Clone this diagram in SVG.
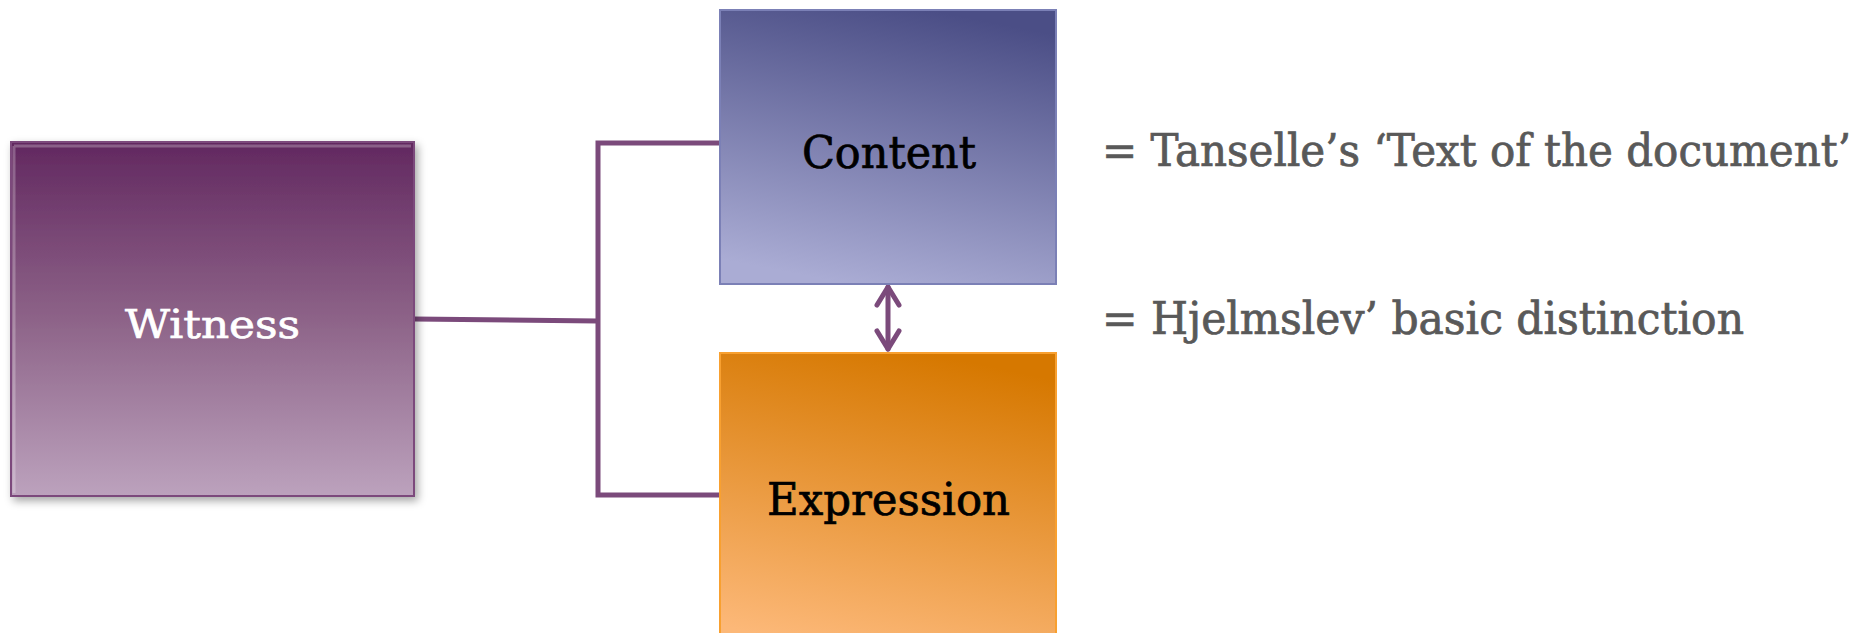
<svg xmlns="http://www.w3.org/2000/svg" width="1871" height="633" viewBox="0 0 1871 633">
<style>
.conn{fill:none;stroke:#7b4a7b;stroke-width:5;stroke-linejoin:miter}
.arrow{fill:none;stroke:#7b4a7b;stroke-width:5;stroke-linecap:round;stroke-linejoin:round}
.lbl{font-family:"DejaVu Serif","Liberation Serif",serif;text-anchor:middle;stroke-width:0.7}
.note{font-family:"DejaVu Serif Condensed","DejaVu Serif","Liberation Serif",serif;fill:#595959;stroke:#595959;stroke-width:0.7;font-size:45px}
</style>
<defs>
<linearGradient id="gW" x1="0" y1="0" x2="0" y2="1">
<stop offset="0" stop-color="#622860"/>
<stop offset="0.5" stop-color="#8d6388"/>
<stop offset="1" stop-color="#bca2bd"/>
</linearGradient>
<linearGradient id="gC" x1="0.62" y1="0" x2="0.38" y2="1">
<stop offset="0" stop-color="#4b4e86"/>
<stop offset="1" stop-color="#aaacd4"/>
</linearGradient>
<linearGradient id="gE" x1="0.62" y1="0" x2="0.38" y2="1">
<stop offset="0" stop-color="#d67800"/>
<stop offset="1" stop-color="#fcb878"/>
</linearGradient>
<filter id="sh" x="-10%" y="-10%" width="125%" height="125%">
<feDropShadow dx="3" dy="4" stdDeviation="4" flood-color="#000" flood-opacity="0.35"/>
</filter>
</defs>

<g id="connectors">
<path class="conn" d="M414,319 L598,321"/>
<path class="conn" d="M720,143 H598 V495 H720"/>
<g id="arrow-content-expression">
<line class="arrow" x1="888" y1="287" x2="888" y2="349"/>
<polyline class="arrow" points="877,305 888,287 899,305"/>
<polyline class="arrow" points="877,331 888,349 899,331"/>
</g>
</g>

<g id="witness">
<rect x="11" y="142" width="403" height="354" fill="url(#gW)" stroke="#7b4a7b" stroke-width="2" filter="url(#sh)"/>
<path d="M14,146 H411 M14,146 V493" fill="none" stroke="#ffffff" stroke-opacity="0.25" stroke-width="3"/>
<text class="lbl" x="212.5" y="338" font-size="39" fill="#ffffff" stroke="#ffffff" textLength="175" lengthAdjust="spacingAndGlyphs">Witness</text>
</g>

<g id="content">
<rect x="720" y="10" width="336" height="274" fill="url(#gC)" stroke="#7b80b6" stroke-width="2"/>
<text class="lbl" x="889" y="168" font-size="44" fill="#000000" stroke="#000000" textLength="174" lengthAdjust="spacingAndGlyphs">Content</text>
</g>

<g id="expression">
<rect x="720" y="353" width="336" height="300" fill="url(#gE)" stroke="#f8a030" stroke-width="2"/>
<text class="lbl" x="888.5" y="515" font-size="44" fill="#000000" stroke="#000000" textLength="243" lengthAdjust="spacingAndGlyphs">Expression</text>
</g>

<g id="notes">
<text class="note" x="1102" y="166" textLength="749" lengthAdjust="spacingAndGlyphs">= Tanselle’s ‘Text of the document’</text>
<text class="note" x="1102" y="334" textLength="642" lengthAdjust="spacingAndGlyphs">= Hjelmslev’ basic distinction</text>
</g>
</svg>
